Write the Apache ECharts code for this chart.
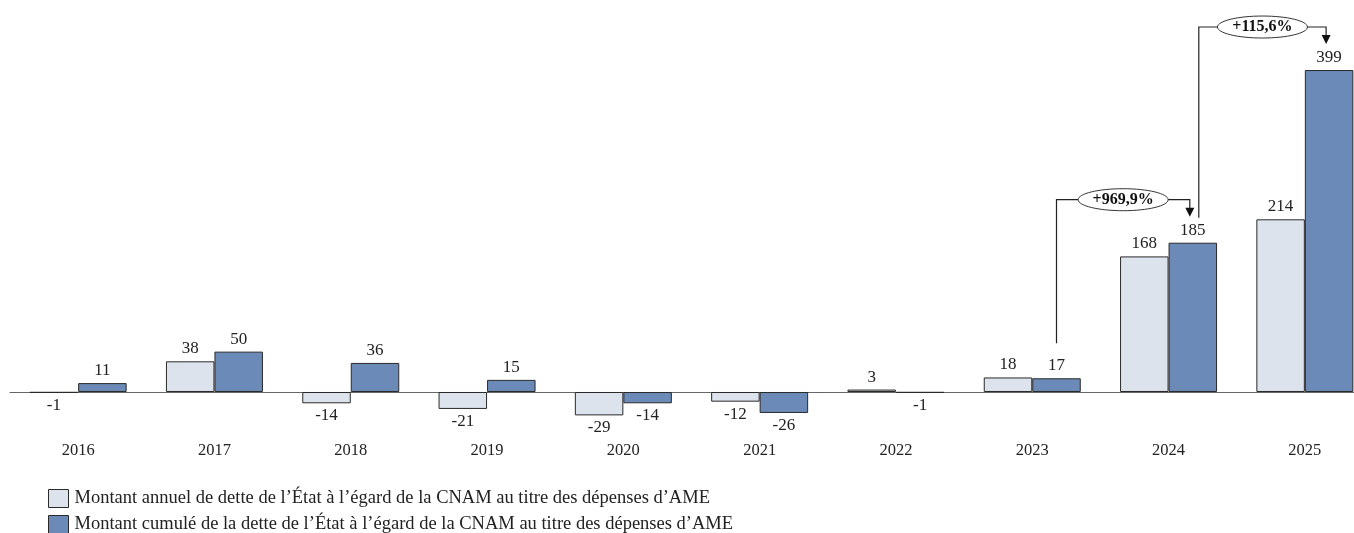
<!DOCTYPE html>
<html><head><meta charset="utf-8">
<script src="https://cdn.jsdelivr.net/npm/echarts@6/dist/echarts.min.js"></script>
<style>html,body{margin:0;padding:0;background:#fff}#c{width:1354px;height:533px}</style>
</head><body><div id="c"></div>
<script>
// ---- data ----
const years = ['2016','2017','2018','2019','2020','2021','2022','2023','2024','2025'];
const annualValues = [-1, 38, -14, -21, -29, -12, 3, 18, 168, 214];
const cumulValues  = [11, 50, 36, 15, -14, -26, -1, 17, 185, 399];
const seriesNames = [
  "Montant annuel de dette de l\u2019\u00c9tat \u00e0 l\u2019\u00e9gard de la CNAM au titre des d\u00e9penses d\u2019AME",
  "Montant cumul\u00e9 de la dette de l\u2019\u00c9tat \u00e0 l\u2019\u00e9gard de la CNAM au titre des d\u00e9penses d\u2019AME"
];
const growthLabels = ['+969,9%', '+115,6%'];
const growthFrom = ['2023', '2024'];
const growthTo = ['2024', '2025'];

// ---- styles ----
const FONT = '"Liberation Serif", "DejaVu Serif", serif';
const BAR_W = 48.5;
const colors = ['#dde3ed', '#6b8ab7'];

function toItems(arr) {
  return arr.map(v => ({ value: v, label: { position: v < 0 ? 'bottom' : 'top' } }));
}

const chart = echarts.init(document.getElementById('c'), null, { renderer: 'canvas' });

function makeSeries(name, vals, color) {
  return {
    name: name, type: 'bar', data: toItems(vals),
    barWidth: BAR_W, barGap: '0%',
    itemStyle: { color: color, borderColor: '#2a2a2a', borderWidth: 1 },
    label: { show: true, distance: 4, color: '#222', fontFamily: FONT, fontSize: 17 },
    emphasis: { disabled: true },
    animation: false
  };
}

function legendFor(i, top) {
  return {
    orient: 'vertical', left: 48, top: top,
    itemWidth: 20, itemHeight: 18, icon: 'rect', itemGap: 0, padding: 0,
    textStyle: { fontFamily: FONT, fontSize: 18.5, color: '#222', padding: [0, 0, 0, 1] },
    itemStyle: { borderColor: '#2a2a2a', borderWidth: 1 },
    selectedMode: false,
    data: [seriesNames[i]]
  };
}

chart.setOption({
  animation: false,
  grid: { left: 10, top: 20.8, width: 1363, height: 419.6, containLabel: false, outerBoundsMode: 'none' },
  xAxis: {
    type: 'category', data: years,
    axisLine: { onZero: true, lineStyle: { color: '#666', width: 1.2 } },
    axisTick: { show: false },
    axisLabel: { margin: 2, color: '#222', fontFamily: FONT, fontSize: 16.5 }
  },
  yAxis: { type: 'value', min: -60, max: 460, show: false, splitLine: { show: false } },
  legend: [legendFor(0, 489), legendFor(1, 515)],
  series: [
    makeSeries(seriesNames[0], annualValues, colors[0]),
    makeSeries(seriesNames[1], cumulValues, colors[1])
  ]
});

// ---- growth annotations (computed from the axes) ----
function barTop(year, val) {
  const p = chart.convertToPixel({ xAxisIndex: 0, yAxisIndex: 0 }, [year, val]);
  return [p[0] + BAR_W / 2, p[1]];
}
const startOffsets = [{ dx: 0, dy: 35 }, { dx: 6, dy: 25 }];
const graphics = [];
growthLabels.forEach((txt, i) => {
  const fi = years.indexOf(growthFrom[i]);
  const ti = years.indexOf(growthTo[i]);
  const a = barTop(growthFrom[i], cumulValues[fi]);
  const b = barTop(growthTo[i], cumulValues[ti]);
  const x1 = a[0] + startOffsets[i].dx, y1 = a[1] - startOffsets[i].dy;
  const x2 = b[0] - 3, tip = b[1] - 26;
  const level = b[1] - 43;
  graphics.push({
    type: 'polyline', silent: true,
    shape: { points: [[x1, y1], [x1, level], [x2, level], [x2, tip - 8]] },
    style: { stroke: '#222', lineWidth: 1.2, fill: null }
  });
  graphics.push({
    type: 'polygon', silent: true,
    shape: { points: [[x2 - 4.5, tip - 9], [x2 + 4.5, tip - 9], [x2, tip]] },
    style: { fill: '#111' }
  });
  const cx = (x1 + x2) / 2;
  graphics.push({
    type: 'ellipse', silent: true,
    shape: { cx: cx, cy: level, rx: 45, ry: 11 },
    style: { fill: '#fff', stroke: '#333', lineWidth: 1 }
  });
  graphics.push({
    type: 'text', silent: true, x: cx, y: level,
    style: { text: txt, fill: '#111', font: 'bold 16px ' + FONT, align: 'center', verticalAlign: 'middle' }
  });
});
chart.setOption({ graphic: graphics });
</script>
</body></html>
